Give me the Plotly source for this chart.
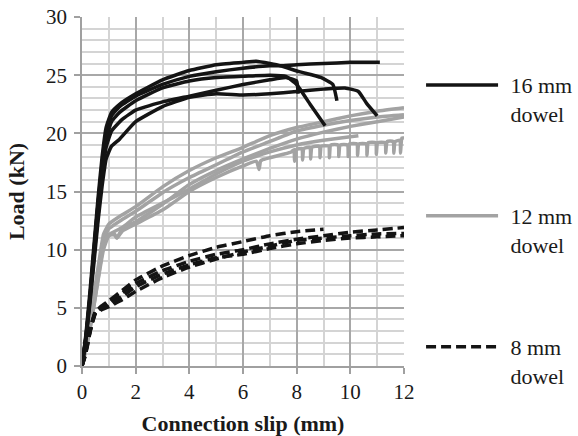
import plotly.graph_objects as go

# ---------------- data ----------------
# 16 mm dowel tests (solid black)
b1_x = [0, 0.15, 0.3, 0.45, 0.6, 0.75, 0.9, 1.1, 1.4, 2, 3, 4, 5, 6, 7, 7.4, 8, 9, 10, 11.1]
b1_y = [0, 2.5, 6, 10, 14, 17.5, 20, 21.5, 22.3, 23.2, 24.2, 24.9, 25.3, 25.6, 25.8, 25.8, 25.9, 26.0, 26.1, 26.1]
b2_x = [0, 0.15, 0.3, 0.45, 0.6, 0.75, 0.9, 1.1, 1.4, 2, 3, 4, 5, 6, 6.5, 7, 7.4, 8.1, 8.9, 9.35, 9.5]
b2_y = [0, 2.8, 6.5, 10.5, 14.5, 18, 20.5, 21.8, 22.5, 23.4, 24.6, 25.4, 25.9, 26.1, 26.2, 26.0, 25.8, 25.3, 24.8, 24.2, 22.8]
b3_x = [0, 0.15, 0.3, 0.45, 0.6, 0.75, 0.9, 1.1, 1.4, 2, 3, 4, 5, 6, 7, 7.6, 8.0, 8.5, 9.06]
b3_y = [0, 2.6, 6, 10, 14, 17, 19.5, 21, 21.8, 22.8, 23.9, 24.5, 24.8, 24.9, 25.0, 24.9, 24.2, 22.5, 20.65]
b4_x = [0, 0.15, 0.3, 0.45, 0.6, 0.75, 0.9, 1.1, 1.4, 2, 3, 4, 5, 6, 7, 8, 9, 9.8, 10.3, 10.6, 11.0]
b4_y = [0, 2.4, 5.5, 9, 12.5, 15.5, 17.8, 18.9, 19.5, 21.0, 22.3, 23.1, 23.4, 23.3, 23.4, 23.6, 23.8, 23.9, 23.6, 22.6, 21.5]
b5_x = [0, 0.15, 0.3, 0.45, 0.6, 0.75, 0.9, 1.1, 1.5, 2, 3, 4, 5, 6, 7, 7.6, 8.0, 8.05]
b5_y = [0, 2.5, 5.8, 9.5, 13, 16.3, 18.8, 20.2, 21.2, 22.0, 22.7, 23.2, 23.7, 24.2, 24.6, 24.8, 24.5, 23.4]

# 12 mm dowel tests (solid grey)
g1_x = [0, 0.2, 0.4, 0.6, 0.8, 1, 1.5, 2, 3, 4, 5, 6, 7, 8, 9, 10, 11, 12]
g1_y = [0, 2.5, 5.5, 8.5, 11.3, 12.2, 13, 13.7, 15.4, 16.8, 17.9, 18.8, 19.8, 20.5, 21.0, 21.5, 21.9, 22.2]
g2_x = [0, 0.2, 0.4, 0.6, 0.8, 1, 1.5, 2, 3, 4, 5, 6, 7, 8, 9, 10, 11, 12]
g2_y = [0, 2.3, 5, 8, 10.8, 11.8, 12.6, 13.3, 14.9, 16.2, 17.3, 18.4, 19.3, 20.2, 20.7, 21.1, 21.4, 21.6]
g3_x = [0, 0.2, 0.4, 0.6, 0.8, 1, 1.2, 1.3, 1.5, 2, 3, 4, 5, 6, 7, 8, 9, 10, 11, 12]
g3_y = [0, 2, 4.6, 7.5, 10.3, 11.2, 11.4, 11.0, 11.8, 12.4, 13.9, 15.6, 16.8, 17.8, 18.7, 19.5, 20.1, 20.6, 21.0, 21.4]
g4_x = [0, 0.2, 0.4, 0.6, 0.8, 1, 1.5, 2, 3, 4, 5, 6, 7, 8, 9, 10, 10.3]
g4_y = [0, 2.2, 4.8, 7.8, 10.6, 11.3, 11.9, 12.8, 14.0, 15.2, 16.5, 17.6, 18.4, 19.0, 19.4, 19.7, 19.8]
g5_x = [0, 0.2, 0.4, 0.6, 0.8, 1, 1.2, 1.3, 1.5, 2, 3, 4, 5, 6, 6.5, 6.6, 6.65, 6.7, 7, 7.5, 7.8,
        7.9, 7.92, 7.97, 8.2, 8.22, 8.27, 8.5, 8.52, 8.57, 8.85, 8.87, 8.92, 9.2, 9.22, 9.27,
        9.55, 9.57, 9.62, 9.9, 9.92, 9.97, 10.25, 10.27, 10.32, 10.6, 10.62, 10.67, 10.95, 10.97,
        11.02, 11.3, 11.32, 11.37, 11.6, 11.62, 11.67, 11.85, 11.87, 11.92, 12.0]
g5_y = [0, 2, 4.5, 7.4, 10, 11.2, 11.3, 11.0, 11.6, 12.2, 13.4, 15.0, 16.2, 17.2, 17.6, 16.9, 17.6, 17.7, 17.9, 18.2, 18.4,
        18.6, 17.6, 18.6, 18.7, 17.7, 18.7, 18.8, 17.8, 18.8, 18.9, 17.9, 18.9, 18.9, 17.9, 19.0,
        19.0, 18.0, 19.0, 19.0, 18.0, 19.1, 19.1, 18.1, 19.1, 19.1, 18.1, 19.2, 19.2, 18.2,
        19.2, 19.2, 18.3, 19.3, 19.3, 18.3, 19.3, 19.4, 18.3, 19.6, 19.6]

# 8 mm dowel tests (dashed black)
d1_x = [0, 0.1, 0.2, 0.3, 0.4, 0.5, 0.7, 1, 1.5, 2, 3, 4, 5, 6, 7, 8, 9]
d1_y = [0, 0.8, 1.8, 3, 3.9, 4.6, 5.1, 5.6, 6.5, 7.4, 8.6, 9.5, 10.2, 10.7, 11.2, 11.55, 11.75]
d2_x = [0, 0.1, 0.2, 0.3, 0.4, 0.5, 0.7, 1, 1.5, 2, 3, 4, 5, 6, 7, 8, 9, 10, 11, 12]
d2_y = [0, 0.9, 2, 3.1, 4, 4.7, 5.0, 5.4, 6.3, 7.1, 8.2, 9.0, 9.6, 10.0, 10.5, 10.9, 11.2, 11.5, 11.7, 11.9]
d3_x = [0, 0.1, 0.2, 0.3, 0.4, 0.5, 0.7, 1, 1.5, 2, 3, 4, 5, 6, 7, 8, 9, 10, 11, 12]
d3_y = [0, 0.7, 1.7, 2.9, 3.8, 4.5, 4.8, 5.1, 5.7, 6.4, 7.6, 8.5, 9.2, 9.8, 10.3, 10.8, 11.0, 11.2, 11.35, 11.4]
d4_x = [0, 0.1, 0.2, 0.3, 0.4, 0.5, 0.7, 1, 1.5, 2, 3, 4, 5, 6, 7, 8, 9, 10, 11, 12]
d4_y = [0, 0.8, 1.9, 3.0, 3.9, 4.6, 4.9, 5.2, 6.0, 6.8, 7.9, 8.7, 9.3, 9.6, 10.1, 10.5, 10.8, 11.0, 11.1, 11.2]

series = [
    ("16 mm", "legend", [(b1_x, b1_y), (b2_x, b2_y), (b3_x, b3_y), (b4_x, b4_y), (b5_x, b5_y)], "#141414", "solid"),
    ("12 mm", "legend2", [(g1_x, g1_y), (g2_x, g2_y), (g3_x, g3_y), (g4_x, g4_y), (g5_x, g5_y)], "#a3a3a3", "solid"),
    ("8 mm", "legend3", [(d1_x, d1_y), (d2_x, d2_y), (d3_x, d3_y), (d4_x, d4_y)], "#141414", "10px,5px"),
]

FONT = "Liberation Serif, Times New Roman, serif"
PAD = "\u00a0\u200a"

fig = go.Figure()
# draw grey first, then black solid, then dashed on top
order = [1, 0, 2]
for idx in order:
    label, lg, curves, color, dash = series[idx]
    for i, (xs, ys) in enumerate(curves):
        fig.add_trace(go.Scatter(
            x=xs, y=ys, mode="lines",
            line=dict(color=color, width=3.5, dash=dash, shape="spline", smoothing=0.4),
            name=PAD + label + "<br>" + PAD + "dowel",
            showlegend=(i == 0), legend=lg, hoverinfo="skip",
        ))

legend_common = dict(
    xanchor="left", yanchor="top", x=1.053, valign="top",
    itemwidth=72, bgcolor="rgba(0,0,0,0)",
    font=dict(family=FONT, size=22, color="#1a1a1a"),
    tracegroupgap=0,
)

fig.update_layout(
    width=578, height=436,
    margin=dict(l=82, r=174, t=17, b=70, autoexpand=False),
    paper_bgcolor="white", plot_bgcolor="white",
    font=dict(family=FONT, size=21, color="#1a1a1a"),
    legend=dict(y=0.865, **legend_common),
    legend2=dict(y=0.490, **legend_common),
    legend3=dict(y=0.115, **legend_common),
    xaxis=dict(
        range=[0, 12], dtick=2, tick0=0,
        showgrid=True, gridcolor="#a8a8a8", gridwidth=1.5,
        minor=dict(dtick=1, showgrid=True, gridcolor="#d4d4d4", gridwidth=1.5),
        showline=True, linecolor="#a0a0a0", linewidth=1.5,
        ticks="outside", ticklen=6, tickcolor="#a0a0a0", tickwidth=1.5,
        zeroline=False,
        tickfont=dict(family=FONT, size=21, color="#1a1a1a"),
        title=dict(text="Connection slip (mm)", font=dict(family=FONT, size=22, weight="bold", color="#1a1a1a")),
    ),
    yaxis=dict(
        range=[0, 30], dtick=5, tick0=0,
        showgrid=True, gridcolor="#a8a8a8", gridwidth=1.5,
        minor=dict(dtick=1, showgrid=True, gridcolor="#d4d4d4", gridwidth=1.5),
        showline=True, linecolor="#a0a0a0", linewidth=1.5,
        ticks="outside", ticklen=6, tickcolor="#a0a0a0", tickwidth=1.5,
        ticklabelstandoff=3,
        zeroline=False,
        tickfont=dict(family=FONT, size=21, color="#1a1a1a"),
        title=dict(text="Load (kN)", font=dict(family=FONT, size=22, weight="bold", color="#1a1a1a")),
    ),
)

fig.write_html("out.html")
